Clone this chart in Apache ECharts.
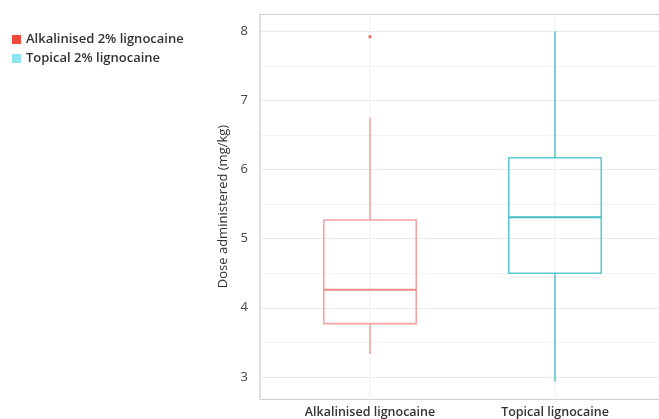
<!DOCTYPE html>
<html>
<head>
<meta charset="utf-8">
<script src="https://cdn.jsdelivr.net/npm/echarts@6/dist/echarts.min.js"></script>
<style>
  html, body { margin: 0; padding: 0; background: #fff; }
  #chart { width: 659px; height: 419px; }
</style>
</head>
<body>
<div id="chart"></div>
<script>
// categories and series names
const categories = ['Alkalinised lignocaine', 'Topical lignocaine'];
const seriesNames = ['Alkalinised 2% lignocaine', 'Topical 2% lignocaine'];
// five-number summaries: min, Q1, median, Q3, max
const alkalinised = [3.33, 3.77, 4.26, 5.27, 6.75];
const topical = [2.93, 4.50, 5.31, 6.17, 8.0];
// outliers
const alkalinisedOutliers = [7.92];
const topicalOutliers = [];

const Y_MIN = 2.68, Y_MAX = 8.25;
const LEGEND_COLORS = ['#f04a3a', '#8fe4f4'];
const LINE_COLORS = ['#f4a2a2', '#5ccad2'];
const MEDIAN_COLORS = ['#ee8686', '#3fbcc4'];

function boxRenderer(idx) {
    return function (params, api) {
        const x = api.value(0);
        const top = api.coord([x, Y_MAX]);
        const bottom = api.coord([x, Y_MIN]);
        const lo = api.coord([x, api.value(1)]);
        const q1 = api.coord([x, api.value(2)]);
        const med = api.coord([x, api.value(3)]);
        const q3 = api.coord([x, api.value(4)]);
        const hi = api.coord([x, api.value(5)]);
        const half = api.size([1, 0])[0] * 0.25;
        const stroke = { stroke: LINE_COLORS[idx], lineWidth: 1.6, fill: null };
        return {
            type: 'group',
            children: [
                // faint category gridline
                { type: 'line', shape: { x1: top[0], y1: top[1], x2: bottom[0], y2: bottom[1] + 4 },
                  style: { stroke: '#efefef', lineWidth: 1 } },
                { type: 'line', shape: { x1: lo[0], y1: lo[1], x2: q1[0], y2: q1[1] }, style: stroke },
                { type: 'line', shape: { x1: q3[0], y1: q3[1], x2: hi[0], y2: hi[1] }, style: stroke },
                { type: 'rect', shape: { x: q3[0] - half, y: q3[1], width: half * 2, height: q1[1] - q3[1] }, style: stroke },
                { type: 'line', shape: { x1: med[0] - half, y1: med[1], x2: med[0] + half, y2: med[1] },
                  style: { stroke: MEDIAN_COLORS[idx], lineWidth: 2 } }
            ]
        };
    };
}

const chart = echarts.init(document.getElementById('chart'));
const font = 'Open Sans';

chart.setOption({
    animation: false,
    textStyle: { fontFamily: font },
    legend: {
        orient: 'vertical',
        left: 7,
        top: 28,
        icon: 'rect',
        itemWidth: 9,
        itemHeight: 9,
        itemGap: 6,
        textStyle: { fontSize: 13, color: '#333', fontWeight: 600 },
        data: seriesNames.map((n, i) => ({ name: n, itemStyle: { color: LEGEND_COLORS[i], borderWidth: 0 } }))
    },
    grid: [
        { left: 260, top: 14, bottom: 20, right: -10, outerBoundsMode: 'none' },
        { left: 277.5, top: 14, bottom: 20, width: 370, outerBoundsMode: 'none' }
    ],
    xAxis: [
        { type: 'value', gridIndex: 0, min: 0, max: 1, show: false },
        {
            type: 'category', gridIndex: 1, data: categories, boundaryGap: true,
            axisLine: { show: false },
            axisTick: { show: false },
            axisLabel: { margin: 7, fontSize: 12.5, color: '#333', fontWeight: 600 },
            splitLine: { show: false }
        }
    ],
    yAxis: [
        {
            type: 'value', gridIndex: 0, min: Y_MIN, max: Y_MAX, splitNumber: 5,
            name: 'Dose administered (mg/kg)', nameLocation: 'middle', nameGap: 30,
            nameTextStyle: { fontSize: 13, color: '#333', fontWeight: 500 },
            axisLine: { show: true, onZero: false, lineStyle: { color: '#d4d4d4', width: 1.5 } },
            axisTick: { show: false },
            axisLabel: { fontSize: 13, color: '#444', margin: 12, showMinLabel: false, showMaxLabel: false },
            // first and last split lines sit on the plot edges and act as the frame
            splitLine: { lineStyle: { color: ['#d0d0d0', '#ebebeb', '#ebebeb', '#ebebeb', '#ebebeb', '#ebebeb', '#ebebeb', '#d0d0d0'], width: 1.2 } },
            minorTick: { show: false, splitNumber: 2 },
            minorSplitLine: { show: true, lineStyle: { color: '#f4f4f4' } }
        },
        { type: 'value', gridIndex: 1, min: Y_MIN, max: Y_MAX, show: false }
    ],
    series: [
        {
            name: seriesNames[0], type: 'custom', xAxisIndex: 1, yAxisIndex: 1, clip: false,
            itemStyle: { color: LEGEND_COLORS[0] },
            renderItem: boxRenderer(0),
            encode: { x: 0, y: [1, 2, 3, 4, 5] },
            data: [[0].concat(alkalinised)]
        },
        {
            name: seriesNames[1], type: 'custom', xAxisIndex: 1, yAxisIndex: 1, clip: false,
            itemStyle: { color: LEGEND_COLORS[1] },
            renderItem: boxRenderer(1),
            encode: { x: 0, y: [1, 2, 3, 4, 5] },
            data: [[1].concat(topical)]
        },
        {
            name: seriesNames[0], type: 'scatter', xAxisIndex: 1, yAxisIndex: 1,
            symbolSize: 3.5,
            itemStyle: { color: '#e85a50' },
            data: alkalinisedOutliers.map(v => [0, v]).concat(topicalOutliers.map(v => [1, v]))
        }
    ]
});
</script>
</body>
</html>
